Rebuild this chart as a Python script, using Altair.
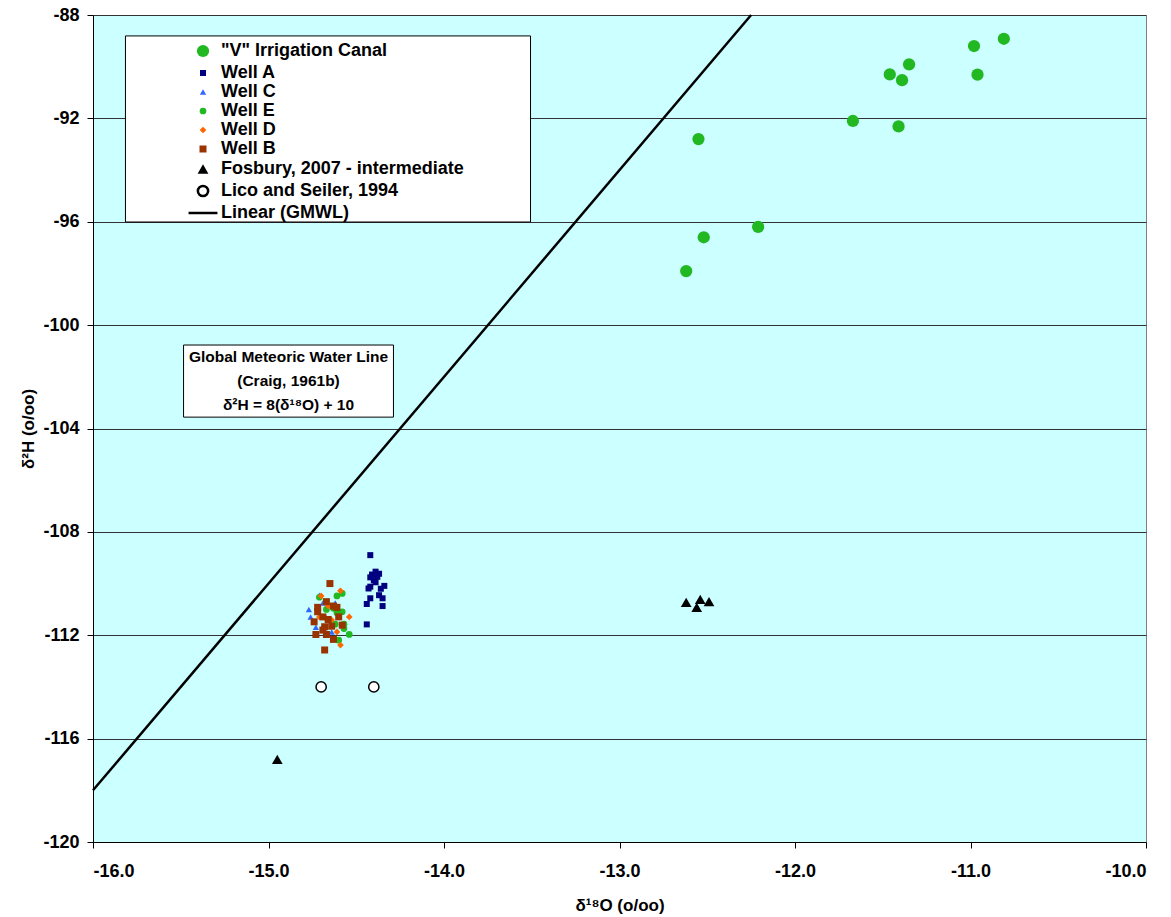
import altair as alt
import pandas as pd

# ---------------- data ----------------
canal_x = [-12.55, -12.52, -12.62, -12.21, -11.67, -11.41, -11.46, -11.39, -11.35, -10.98, -10.96, -10.81]
canal_y = [-92.80, -96.60, -97.91, -96.20, -92.10, -92.31, -90.30, -90.52, -89.91, -89.20, -90.31, -88.92]

wellA_x = [-14.42, -14.41, -14.39, -14.42, -14.38, -14.40, -14.43, -14.42, -14.34, -14.37, -14.42, -14.35,
           -14.44, -14.35, -14.44, -14.39, -14.37, -14.36]
wellA_y = [-108.90, -109.65, -109.54, -109.76, -109.74, -109.87, -110.19, -110.12, -110.09, -110.45, -110.57,
           -110.57, -110.79, -110.87, -111.58, -109.95, -109.62, -110.20]

wellC_x = [-14.77, -14.73, -14.64, -14.62, -14.69, -14.76, -14.71]
wellC_y = [-111.00, -111.69, -111.87, -110.75, -110.75, -111.29, -110.45]

wellE_x = [-14.61, -14.58, -14.71, -14.63, -14.58, -14.61, -14.57, -14.57, -14.54, -14.60, -14.62, -14.67]
wellE_y = [-110.48, -110.38, -110.53, -110.96, -111.09, -111.13, -111.57, -111.74, -111.97, -112.19, -111.57, -111.00]

wellD_x = [-14.70, -14.59, -14.54, -14.71, -14.67, -14.64, -14.59, -14.66, -14.61]
wellD_y = [-110.48, -110.28, -111.29, -111.29, -111.36, -111.41, -112.38, -110.87, -111.87]

wellB_x = [-14.65, -14.72, -14.67, -14.63, -14.61, -14.72, -14.69, -14.66, -14.74, -14.64, -14.68, -14.60,
           -14.58, -14.69, -14.73, -14.67, -14.63, -14.68]
wellB_y = [-110.00, -110.92, -110.70, -110.87, -110.92, -111.09, -111.29, -111.39, -111.48, -111.65, -111.67,
           -111.29, -111.61, -111.80, -111.97, -111.97, -112.16, -112.57]

fosbury_x = [-12.62, -12.54, -12.56, -12.49, -14.95]
fosbury_y = [-110.73, -110.61, -110.92, -110.70, -116.80]

lico_x = [-14.70, -14.40]
lico_y = [-114.0, -114.0]

# Global Meteoric Water Line  dH = 8 dO + 10 (end points)
gmwl_x = [-16.0, -12.25]
gmwl_y = [-118.0, -88.0]

series_names = ['"V" Irrigation Canal', "Well A", "Well C", "Well E", "Well D", "Well B",
                "Fosbury, 2007 - intermediate", "Lico and Seiler, 1994", "Linear (GMWL)"]
series_fill = ["#22B822", "#000080", "#3366FF", "#22B822", "#FF6600", "#993300", "#000000", "#FFFFFF", "#000000"]
series_stroke = ["transparent", "transparent", "transparent", "transparent", "transparent", "transparent",
                 "transparent", "#000000", "#000000"]
series_shape = ["circle", "square", "triangle-up", "circle", "diamond", "square", "triangle-up", "circle",
                "M-1.7,0L1.7,0"]
series_size = [150, 36, 40, 45, 45, 49, 115, 105, 289]

y_ticks = [-120, -116, -112, -108, -104, -100, -96, -92, -88]
x_ticks = [-16, -15, -14, -13, -12, -11, -10]

# annotation box + legend frame (data units)
note_lines = ["Global Meteoric Water Line", "(Craig, 1961b)", "δ²H = 8(δ¹⁸O) + 10"]
note_x = -14.886
note_y = [-101.22, -102.15, -103.08]
note_box_x = [-15.484, -14.288]
note_box_y = [-100.77, -103.56]
legend_box_x = [-15.815, -13.507]
legend_box_y = [-88.81, -96.01]

# ---------------- tables ----------------
parts = []
for name, xs, ys in [(series_names[0], canal_x, canal_y), (series_names[1], wellA_x, wellA_y),
                     (series_names[2], wellC_x, wellC_y), (series_names[3], wellE_x, wellE_y),
                     (series_names[4], wellD_x, wellD_y), (series_names[5], wellB_x, wellB_y),
                     (series_names[6], fosbury_x, fosbury_y), (series_names[7], lico_x, lico_y)]:
    parts.append(pd.DataFrame({"x": xs, "y": ys, "series": name}))
pts = pd.concat(parts, ignore_index=True)
pts["order"] = range(len(pts))

line_df = pd.DataFrame({"x": gmwl_x, "y": gmwl_y})
note_df = pd.DataFrame({"x": [note_x] * 3, "y": note_y, "t": note_lines})
box_df = pd.DataFrame({"x": [note_box_x[0], legend_box_x[0]], "x2": [note_box_x[1], legend_box_x[1]],
                       "y": [note_box_y[0], legend_box_y[0]], "y2": [note_box_y[1], legend_box_y[1]]})

FONT = "Liberation Sans"
MINUS_FIX = "replace(datum.label, '\u2212', '-')"

xscale = alt.Scale(domain=[-16, -10], nice=False, zero=False)
yscale = alt.Scale(domain=[-120, -88], nice=False, zero=False)

xenc = alt.X("x:Q", scale=xscale, axis=alt.Axis(values=x_ticks, format=".1f", title="δ¹⁸O (o/oo)",
                                                grid=False, labelExpr=MINUS_FIX))
yenc = alt.Y("y:Q", scale=yscale, axis=alt.Axis(values=y_ticks, format="d", title="δ²H (o/oo)",
                                                grid=True, labelExpr=MINUS_FIX))

leg = alt.Legend(title=None)

points = alt.Chart(pts).mark_point(filled=True, opacity=1, strokeWidth=1.5).encode(
    x=xenc,
    y=yenc,
    fill=alt.Fill("series:N", scale=alt.Scale(domain=series_names, range=series_fill), legend=leg),
    stroke=alt.Stroke("series:N", scale=alt.Scale(domain=series_names, range=series_stroke), legend=leg),
    shape=alt.Shape("series:N", scale=alt.Scale(domain=series_names, range=series_shape), legend=leg),
    size=alt.Size("series:N", scale=alt.Scale(type="ordinal", domain=series_names, range=series_size), legend=leg),
    order="order:Q",
)

gmwl = alt.Chart(line_df).mark_line(color="black", strokeWidth=2.5).encode(x="x:Q", y="y:Q")

box = alt.Chart(box_df).mark_rect(fill="white", stroke="black", strokeWidth=1).encode(
    x="x:Q", x2="x2:Q", y="y:Q", y2="y2:Q")

notes = alt.Chart(note_df).mark_text(font=FONT, fontWeight="bold", fontSize=15.5, color="black",
                                     align="center", baseline="middle").encode(x="x:Q", y="y:Q", text="t:N")

chart = alt.layer(gmwl, box, notes, points).properties(
    width=1053, height=827,
    padding={"left": 93, "top": 15, "right": 25, "bottom": 75},
    autosize=alt.AutoSizeParams(type="none"),
).configure_view(
    fill="#CCFFFF", stroke="#808080", strokeWidth=1
).configure_axis(
    labelFont=FONT, labelFontWeight="bold", labelFontSize=18, labelColor="black",
    titleFont=FONT, titleFontWeight="bold", titleFontSize=17, titleColor="black",
    domainColor="black", tickColor="black", tickSize=6, gridColor="#333333", gridWidth=1,
).configure_axisX(
    labelPadding=14, titlePadding=17,
).configure_axisY(
    labelPadding=8, titlePadding=5,
).configure_legend(
    orient="none", legendX=33, legendY=23,
    padding=4,
    labelFont=FONT, labelFontWeight="bold", labelFontSize=18, labelColor="black",
    labelLimit=500,
    symbolOffset=63, labelOffset=8, rowPadding=1, symbolStrokeWidth=2.5,
)

chart.save("out.html", embed_options={"renderer": "svg", "actions": False})
